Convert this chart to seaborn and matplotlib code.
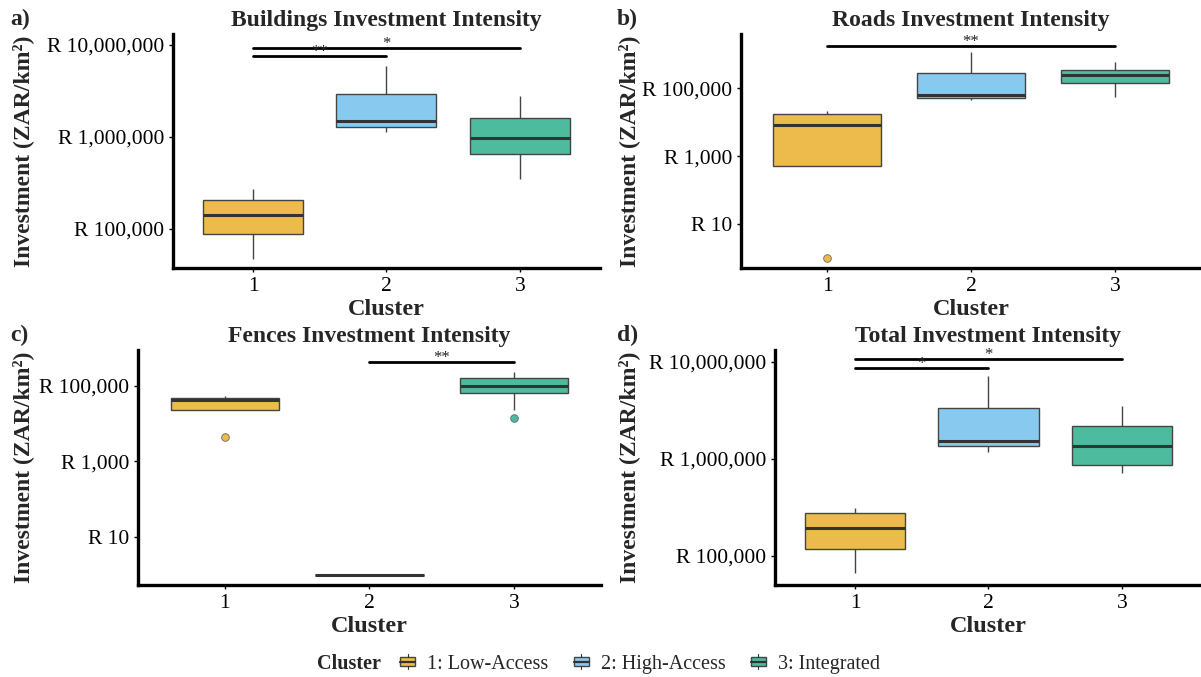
import numpy as np
import pandas as pd
import matplotlib
matplotlib.use("Agg")
import matplotlib.pyplot as plt
import matplotlib.transforms as mtransforms
import seaborn as sns
from matplotlib.legend_handler import HandlerBase
from matplotlib.patches import Rectangle, Patch
from matplotlib.lines import Line2D
from matplotlib.ticker import FixedLocator, FuncFormatter, NullLocator

sns.set_theme(style="white")
plt.rcParams['font.family'] = ['Liberation Serif', 'DejaVu Serif']

# categorias
clusters = ["1", "2", "3"]
cluster_names = ["1: Low-Access", "2: High-Access", "3: Integrated"]
cluster_colors = ["#EDBB4C", "#88CAEF", "#4DBB9D"]

# valores (ZAR/km2), por cluster
buildings_1 = [47000, 88000, 142000, 207000, 270000]
buildings_2 = [1130000, 1280000, 1500000, 2950000, 5900000]
buildings_3 = [350000, 650000, 980000, 1600000, 2800000]

roads_1 = [1, 520, 8200, 17500, 21000]
roads_2 = [44000, 51000, 63000, 277000, 1150000]
roads_3 = [55000, 140000, 240000, 340000, 580000]

fences_1 = [4500, 22000, 41000, 47000, 53000]
fences_2 = [1, 1, 1, 1, 1]
fences_3 = [13500, 22000, 64000, 80000, 96000, 120000, 155000, 190000, 233000]

total_1 = [67000, 118000, 194000, 277000, 310000]
total_2 = [1180000, 1350000, 1540000, 3300000, 7100000]
total_3 = [710000, 860000, 1350000, 2200000, 3500000]

# testes de significancia: pares, altura da barra, rotulo
buildings_sig = [((1, 2), 7600000, "**"), ((1, 3), 9300000, "*")]
roads_sig = [((1, 3), 1740000, "**")]
fences_sig = [((2, 3), 430000, "**")]
total_sig = [((1, 3), 10700000, "*"), ((1, 2), 8700000, "*")]

# ticks do eixo y
ticks_big = [1e5, 1e6, 1e7]
ticks_small = [10, 1e3, 1e5]

panels = [
    ("a)", "Buildings Investment Intensity", [buildings_1, buildings_2, buildings_3], buildings_sig,
     ticks_big, (10**4.57, 10**7.12), [0.144, 0.6041, 0.3555, 0.3457]),
    ("b)", "Roads Investment Intensity", [roads_1, roads_2, roads_3], roads_sig,
     ticks_small, (10**-0.29, 10**6.59), [0.617, 0.6041, 0.383, 0.3457]),
    ("c)", "Fences Investment Intensity", [fences_1, fences_2, fences_3], fences_sig,
     ticks_small, (10**-0.27, 10**5.94), [0.1149, 0.1359, 0.3855, 0.3471]),
    ("d)", "Total Investment Intensity", [total_1, total_2, total_3], total_sig,
     ticks_big, (10**4.70, 10**7.12), [0.6453, 0.1359, 0.3555, 0.3471]),
]


class BoxKey(HandlerBase):
    # desenha a chave do legend como um mini boxplot
    def create_artists(self, legend, orig_handle, xdescent, ydescent, width, height, fontsize, trans):
        x0, y0 = -xdescent, -ydescent
        fc = orig_handle.get_facecolor()
        box = Rectangle((x0, y0 + 0.2 * height), width, 0.6 * height, facecolor=fc,
                        edgecolor="#444444", lw=1.0, transform=trans)
        mid = Line2D([x0, x0 + width], [y0 + 0.5 * height] * 2, color="#333333", lw=1.6, transform=trans)
        xc = x0 + width / 2
        lo = Line2D([xc, xc], [y0, y0 + 0.2 * height], color="#333333", lw=0.8, transform=trans)
        hi = Line2D([xc, xc], [y0 + 0.8 * height, y0 + height], color="#333333", lw=0.8, transform=trans)
        return [box, mid, lo, hi]


fig = plt.figure(figsize=(12.01, 6.77), dpi=100)

for tag, title, groups, sigs, ticks, ylim, rect in panels:
    ax = fig.add_axes(rect)
    df = pd.DataFrame({
        "Cluster": [c for c, g in zip(clusters, groups) for _ in g],
        "value": [v for g in groups for v in g],
    })
    sns.boxplot(data=df, x="Cluster", y="value", hue="Cluster", order=clusters, hue_order=clusters,
                palette=cluster_colors, saturation=1, log_scale=True, width=0.75, linecolor="#444444",
                linewidth=1.0, showcaps=False, legend=False, ax=ax,
                medianprops=dict(linewidth=2.2, color="#333333"),
                flierprops=dict(marker="o", markersize=5.5, markeredgecolor="#666666",
                                markeredgewidth=0.6))
    # pinta os outliers com a cor do grupo
    for ln in ax.lines:
        xd = np.asarray(ln.get_xdata(), dtype=float)
        if ln.get_marker() == "o" and len(xd):
            ln.set_markerfacecolor(cluster_colors[int(round(xd.mean()))])

    for (i, j), h, lab in sigs:
        ax.plot([i - 1, j - 1], [h, h], color="black", lw=2)
        ax.annotate(lab, xy=((i + j) / 2 - 1, h), xytext=(0, 2.5), textcoords="offset points",
                    ha="center", va="center", fontsize=12, color="#222222")

    ax.set_ylim(*ylim)
    ax.set_xlim(-0.6, 2.6)
    ax.yaxis.set_major_locator(FixedLocator(ticks))
    ax.yaxis.set_minor_locator(NullLocator())
    ax.yaxis.set_major_formatter(FuncFormatter(lambda v, p: f"R {v:,.0f}"))
    ax.tick_params(axis="both", labelsize=15.5, colors="black", length=3, width=1, left=True, bottom=True)
    for s in ["top", "right"]:
        ax.spines[s].set_visible(False)
    for s in ["left", "bottom"]:
        ax.spines[s].set_color("black")
        ax.spines[s].set_linewidth(2.4)
    ax.set_title(title, fontsize=17, fontweight="bold", pad=6)
    ax.set_xlabel("Cluster", fontsize=17.5, fontweight="bold", labelpad=2)
    ax.set_ylabel("Investment (ZAR/km²)", fontsize=17, fontweight="bold")
    left_col = rect[0] < 0.5
    lab_x = 34 / 1201 if left_col else 640 / 1201
    ax.yaxis.set_label_coords(lab_x, 0.5, transform=mtransforms.blended_transform_factory(fig.transFigure, ax.transAxes))
    ax.grid(False)
    x0 = 10 / 1201 if left_col else 617 / 1201
    y0 = rect[1] + rect[3] + 15 / 677
    fig.text(x0, y0, tag, fontsize=17, fontweight="bold", va="center")

# legenda embaixo
handles = [Patch(facecolor=c) for c in cluster_colors]
fig.text(349 / 1201, 13 / 677, "Cluster", fontsize=14.5, fontweight="bold", ha="center", va="center")
fig.legend(handles, cluster_names, handler_map={Patch: BoxKey()}, loc="center", ncol=3,
           bbox_to_anchor=(640 / 1201, 13 / 677), frameon=False, fontsize=14.5,
           handlelength=0.75, handleheight=0.7, handletextpad=0.6, columnspacing=1.25)

fig.savefig("out.png", dpi=100)
